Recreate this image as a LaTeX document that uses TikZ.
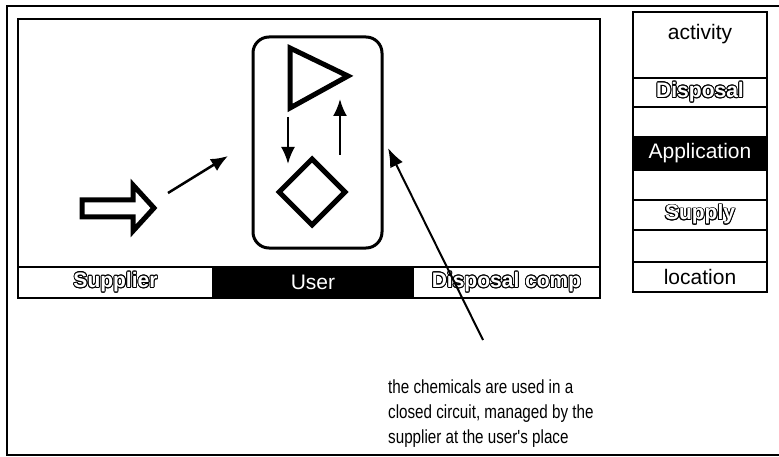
\documentclass[tikz,border=0pt]{standalone}
\usepackage{fontspec}
\setmainfont{Liberation Sans}
\newfontfamily\narrowfont[FakeStretch=0.8]{Liberation Sans}
\usepackage[copies]{contour}
\contourlength{0.9pt}
\usepackage{tikz}
\usetikzlibrary{shapes.geometric, arrows.meta, positioning}
\tikzstyle{tab} = [rectangle, draw=black, line width=2pt, minimum height=31pt, inner sep=0pt, outer sep=0pt, font=\fontsize{21}{21}\selectfont]
\tikzstyle{tabdark} = [tab, fill=black, text=white]
\tikzstyle{row} = [rectangle, draw=black, line width=2pt, minimum width=134pt, inner sep=0pt, outer sep=0pt, font=\fontsize{21}{21}\selectfont]
\tikzstyle{rowdark} = [row, fill=black, text=white]
\tikzstyle{arrow} = [line width=2.5pt, -{Latex[length=17pt,width=14pt]}]
% white letters with a black outline
\newcommand{\hollow}[1]{\textcolor{white}{\contour{black}{\bfseries #1}}}

\begin{document}
\begin{tikzpicture}[x=1pt, y=-1pt]
\useasboundingbox (0,0) rectangle (779,457);

% outer frame, open at the right
\draw [line width=2.5pt] (779,6) -- (7,6) -- (7,455) -- (779,455);

% main panel with the location tabs
\node (panel) [rectangle, draw, line width=2pt, minimum width=582pt, minimum height=279pt, inner sep=0pt, outer sep=0pt, anchor=north west] at (18,19) {};
\node (supplier) [tab, minimum width=195pt, anchor=south west] at (panel.south west) {\hollow{Supplier}};
\node (user) [tabdark, minimum width=200pt, right=0pt of supplier] {User};
\node (dispcomp) [tab, minimum width=187pt, right=0pt of user] {\hollow{Disposal comp}};

% supplier delivers
\draw [line width=5pt, line join=miter] (82,200) -- (133,200) -- (133,185) -- (154,208) -- (133,231) -- (133,217) -- (82,217) -- cycle;
\coordinate (deliver) at (168,193);
\coordinate (arrive) at (228,156);
\draw [arrow] (deliver) -- (arrive);

% closed circuit at the user
\draw [line width=3pt, rounded corners=16pt] (253,37) rectangle (382,248);
\draw [line width=5pt, line join=miter] (290,48) -- (348,76) -- (290,108) -- cycle;
\node (valve) [diamond, draw, line width=5pt, minimum width=68pt, minimum height=68pt, inner sep=0pt] at (312,192) {};
\coordinate (out) at (288,117);
\coordinate (in) at (288,164);
\coordinate (back) at (340,155);
\coordinate (top) at (340,99);
\draw [arrow] (out) -- (in);
\draw [arrow] (back) -- (top);

% activity column
\node (activity) [row, minimum height=66pt, text height=15pt, text depth=26pt, anchor=north west] at (633,12) {activity};
\node (disposal) [row, minimum height=29pt, below=0pt of activity] {\hollow{Disposal}};
\node (gap1) [row, minimum height=30pt, below=0pt of disposal] {};
\node (application) [rowdark, minimum height=33pt, below=0pt of gap1] {Application};
\node (gap2) [row, minimum height=30pt, below=0pt of application] {};
\node (supply) [row, minimum height=30pt, below=0pt of gap2] {\hollow{Supply}};
\node (gap3) [row, minimum height=32pt, below=0pt of supply] {};
\node (location) [row, minimum height=30pt, below=0pt of gap3] {location};

% remark
\node (note) [anchor=north west, align=left, inner sep=0pt, font=\narrowfont\fontsize{19}{25}\selectfont] at (388,380) {the chemicals are used in a\\closed circuit, managed by the\\supplier at the user's place};
\coordinate (tail) at (483,340);
\coordinate (tip) at (388,148);
\draw [line width=2pt, -{Latex[length=19pt,width=14pt]}] (tail) -- (tip);

\end{tikzpicture}
\end{document}
